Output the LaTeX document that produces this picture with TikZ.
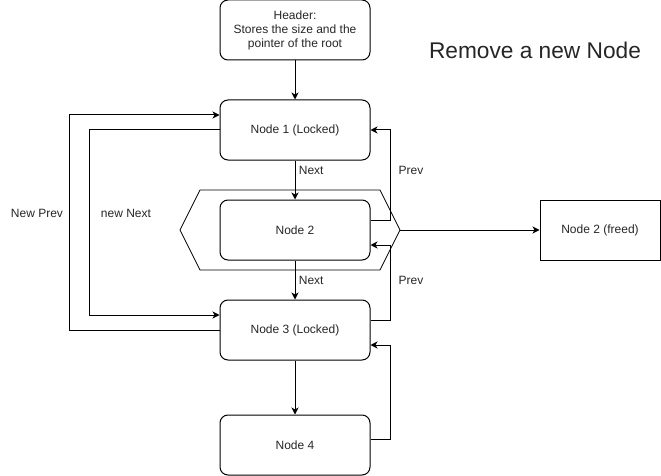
\documentclass[tikz,border=0pt]{standalone}
\usepackage{fontspec}
\setmainfont{Liberation Sans}
\usetikzlibrary{arrows.meta,positioning}

\begin{document}
\begin{tikzpicture}[x=1pt,y=-1pt,line width=1pt,
  box/.style={draw,rounded corners=8pt,minimum width=150pt,minimum height=60pt,
    align=center,font=\fontsize{12}{14}\selectfont,text=black!85},
  lbl/.style={font=\fontsize{12}{14}\selectfont,text=black!85},
  arr/.style={-{Stealth[length=7pt,width=7pt,inset=2pt]}}]
\useasboundingbox (0,0) rectangle (661,476);
\draw[line width=0.8pt] (180,230) -- (200,190) -- (380,190) -- (400,230) -- (380,270) -- (200,270) -- cycle; %removed
\coordinate (hexr) at (400,230);
\node[box] (hdr) at (295,30) {Header:\\Stores the size and the\\pointer of the root};
\node[box] (n1) at (295,130) {Node 1 (Locked)};
\node[box] (n2) at (295,230) {Node 2};
\node[box] (n3) at (295,330) {Node 3 (Locked)};
\node[box] (n4) at (295,445) {Node 4};
\node[box,rounded corners=0pt,minimum width=120pt] (fr) at (600,230) {Node 2 (freed)};
\node[font=\fontsize{22.7}{26}\selectfont,text=black!85] (ttl) at (535,50) {Remove a new Node};
\draw[arr] (hdr) -- (n1);
\draw[arr] (n1) -- node[lbl,pos=0.25,anchor=west] {Next} (n2);
\draw[arr] (n2) -- node[lbl,anchor=west] {Next} (n3);
\draw[arr] (n3) -- (n4);
\draw[arr] ([yshift=10pt]n2.east) -- ++(20,0) |- (n1.east); %prev
\draw[arr] ([yshift=10pt]n3.east) -- ++(20,0) |- ([yshift=-15pt]n2.east);
\draw[arr] ([yshift=6pt]n4.east) -- ++(20,0) |- ([yshift=-15pt]n3.east);
\node[lbl] (p1) at (411,170) {Prev};
\node[lbl] (p2) at (411,280) {Prev};
\draw[arr] (n3.west) -- ++(-150,0) |- ([yshift=15pt]n1.west); %new prev
\draw[arr] (n1.west) -- ++(-130,0) |- ([yshift=15pt]n3.west); %new next
\node[lbl] (np) at (37,213) {New Prev};
\node[lbl] (nn) at (126,213) {new Next};
\draw[arr] (hexr) -- (fr);
\end{tikzpicture}
\end{document}
